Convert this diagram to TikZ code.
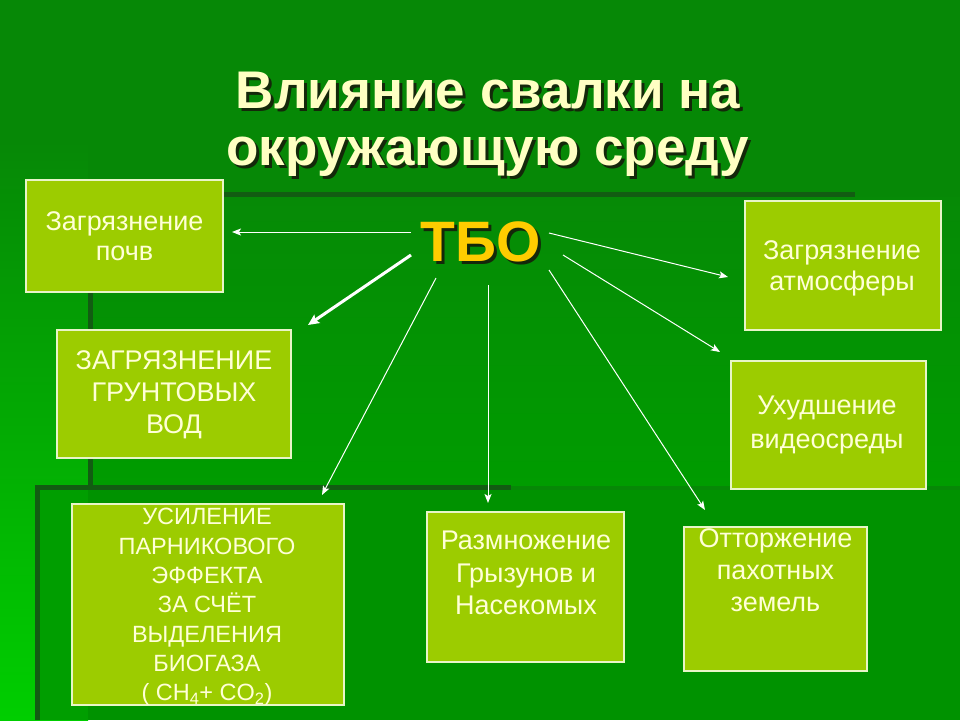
\documentclass[tikz,border=0pt]{standalone}
\usepackage{fontspec}
\setmainfont{Liberation Sans}
\usetikzlibrary{arrows.meta}
\definecolor{bgtop}{RGB}{6,136,6}
\definecolor{bgmidtop}{RGB}{6,138,6}
\definecolor{bgmidbot}{RGB}{0,156,0}
\definecolor{bglow}{RGB}{0,146,0}
\definecolor{bglowleft}{RGB}{0,158,0}
\definecolor{stripBot}{RGB}{0,206,0}
\definecolor{barDark}{RGB}{18,92,18}
\definecolor{boxFill}{RGB}{156,204,0}
\definecolor{boxLine}{RGB}{232,245,200}
\definecolor{boxText}{RGB}{255,255,215}
\definecolor{titleText}{RGB}{255,255,195}
\definecolor{titleShadow}{RGB}{20,40,10}
\definecolor{tboText}{RGB}{255,204,0}
\tikzset{
  box/.style={draw=boxLine, line width=1.2pt, fill=boxFill, inner sep=0pt},
  boxtxt/.style={text=boxText, align=center, inner sep=0pt},
  arr/.style={draw=white, line width=1pt, -{Stealth[length=9pt,width=7pt,inset=2pt]}},
  thickarr/.style={draw=white, line width=3pt, -{Stealth[length=11pt,width=10pt,inset=2pt]}},
  titletxt/.style={font=\bfseries\fontsize{53}{57}\selectfont, align=center, inner sep=0pt},
  tbotxt/.style={font=\bfseries\fontsize{57}{60}\selectfont, inner sep=0pt}
}
\begin{document}
\begin{tikzpicture}[x=1pt,y=-1pt]
\useasboundingbox (0,0) rectangle (960,720);
% background
\fill[bgtop] (0,0) rectangle (960,720);
\shade[top color=bgtop, bottom color=stripBot] (0,140) rectangle (88,720);
\shade[top color=bgmidtop, bottom color=bgmidbot] (93,197) rectangle (960,485);
\fill[bglowleft] (40,490) rectangle (88,720);
\fill[bglow] (88,490) rectangle (960,720);
\fill[barDark] (75,192) rectangle (855,197);
\fill[barDark] (88,192) rectangle (93,485);
\fill[barDark] (35,485) rectangle (511,490);
\fill[barDark] (35,485) rectangle (40,720);
% title
\node[titletxt, text=titleShadow, anchor=base] at (491,168) {Влияние свалки на\\окружающую среду};
\node[titletxt, text=titleText, anchor=base] (title) at (488,165) {Влияние свалки на\\окружающую среду};
% center
\node[tbotxt, text=titleShadow] at (484,245) {ТБО};
\node[tbotxt, text=tboText] (tbo) at (481,242) {ТБО};
% boxes
\node[box, minimum width=197, minimum height=112] (soil) at (124.5,236) {};
\node[boxtxt, font=\fontsize{27}{30}\selectfont] (soilT) at (124.5,236) {Загрязнение\\почв};
\node[box, minimum width=234, minimum height=128] (water) at (174,394) {};
\node[boxtxt, font=\fontsize{27}{32}\selectfont] (waterT) at (174,395) {ЗАГРЯЗНЕНИЕ\\ГРУНТОВЫХ\\ВОД};
\node[box, minimum width=196, minimum height=129] (air) at (843,265.5) {};
\node[boxtxt, font=\fontsize{27}{31}\selectfont] (airT) at (842,268) {Загрязнение\\атмосферы};
\node[box, minimum width=195, minimum height=128] (video) at (828.5,425) {};
\node[boxtxt, font=\fontsize{27}{34}\selectfont] (videoT) at (827,425) {Ухудшение\\видеосреды};
\node[box, minimum width=272, minimum height=201] (green) at (208,604.5) {};
\node[boxtxt, font=\fontsize{23.5}{29.3}\selectfont] (greenT) at (207,607) {УСИЛЕНИЕ\\ПАРНИКОВОГО\\ЭФФЕКТА\\ЗА СЧЁТ\\ВЫДЕЛЕНИЯ\\БИОГАЗА\\( CH\textsubscript{4}+ CO\textsubscript{2})};
\node[box, minimum width=197, minimum height=150] (rodent) at (525.5,587) {};
\node[boxtxt, font=\fontsize{27}{32.5}\selectfont] (rodentT) at (526,573) {Размножение\\Грызунов и\\Насекомых};
\node[box, minimum width=183, minimum height=144] (land) at (775.5,599) {};
\node[boxtxt, font=\fontsize{27}{32}\selectfont] (landT) at (775.5,570) {Отторжение\\пахотных\\земель};
% connector ends
\coordinate (sA) at (411,232); \coordinate (eA) at (232,232);
\coordinate (sB) at (411,255); \coordinate (eB) at (308,325);
\coordinate (sE) at (436,278); \coordinate (eE) at (322,495);
\coordinate (sF) at (488,285); \coordinate (eF) at (488,503);
\coordinate (sG) at (549,270); \coordinate (eG) at (705,510);
\coordinate (sD) at (563,255); \coordinate (eD) at (720,352);
\coordinate (sC) at (549,233); \coordinate (eC) at (728,277);
\draw[arr] (sA) -- (eA);
\draw[thickarr] (sB) -- (eB);
\draw[arr] (sE) -- (eE);
\draw[arr] (sF) -- (eF);
\draw[arr] (sG) -- (eG);
\draw[arr] (sD) -- (eD);
\draw[arr] (sC) -- (eC);
\end{tikzpicture}
\end{document}
